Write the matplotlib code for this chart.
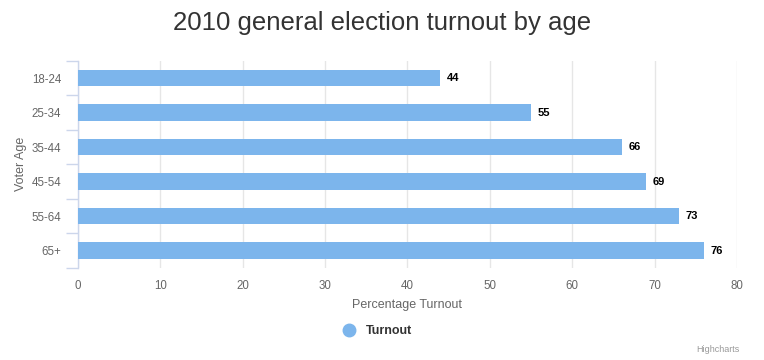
import matplotlib
matplotlib.use("Agg")
import matplotlib.pyplot as plt
from matplotlib.lines import Line2D

plt.rcParams["font.family"] = ["Liberation Sans", "DejaVu Sans"]

# ── data ──────────────────────────────────────────────────────────────────────
age_groups = ["18-24", "25-34", "35-44", "45-54", "55-64", "65+"]
turnout    = [44, 55, 66, 69, 73, 76]
x_ticks    = [0, 10, 20, 30, 40, 50, 60, 70, 80]

BAR_COLOR  = "#7cb5ec"
AXIS_COLOR = "#ccd6eb"
GRID_COLOR = "#e6e6e6"
LABEL_GRAY = "#666666"

fig = plt.figure(figsize=(7.64, 3.6), dpi=100)
ax = fig.add_axes([0.102, 0.256, 0.8627, 0.575])

pos = list(range(len(age_groups)))
ax.barh(pos, turnout, height=0.47, color=BAR_COLOR, zorder=3)

for p, v in zip(pos, turnout):
    ax.text(v + 0.8, p, str(v), va="center", ha="left",
            fontsize=8, fontweight="bold", color="black", zorder=4)

ax.set_xlim(0, 80)
ax.set_ylim(len(age_groups) - 0.5, -0.5)
ax.set_xticks(x_ticks)
ax.set_yticks(pos)
ax.set_yticklabels(age_groups)

# category boundary ticks on the y axis
ax.set_yticks([p - 0.5 for p in pos] + [len(pos) - 0.5], minor=True)
ax.tick_params(axis="y", which="minor", length=9, color=AXIS_COLOR, width=1)
ax.tick_params(axis="y", which="major", length=0, pad=12,
               labelsize=8.3, labelcolor=LABEL_GRAY)
ax.tick_params(axis="x", length=0, pad=9, labelsize=8.3, labelcolor=LABEL_GRAY)

ax.grid(axis="x", color=GRID_COLOR, linewidth=1, zorder=0)
for side in ["top", "right", "bottom"]:
    ax.spines[side].set_visible(False)
ax.spines["left"].set_color(AXIS_COLOR)
ax.spines["left"].set_linewidth(1)

ax.set_xlabel("Percentage Turnout", fontsize=9, color=LABEL_GRAY, labelpad=5)
ax.set_ylabel("Voter Age", fontsize=9, color=LABEL_GRAY, labelpad=3)

fig.text(0.5, 0.935, "2010 general election turnout by age",
         ha="center", va="center", fontsize=18.5, color="#333333")

# legend
handle = Line2D([], [], marker="o", linestyle="none", markersize=9,
                markerfacecolor=BAR_COLOR, markeredgecolor=BAR_COLOR)
leg = fig.legend([handle], ["Turnout"], loc="center", bbox_to_anchor=(0.49, 0.08),
                 frameon=False, handletextpad=0.3, prop={"size": 9, "weight": "bold"})
for t in leg.get_texts():
    t.set_color("#333333")

fig.text(0.968, 0.03, "Highcharts", ha="right", va="center",
         fontsize=6.5, color="#999999")

fig.savefig("out.png", dpi=100)
